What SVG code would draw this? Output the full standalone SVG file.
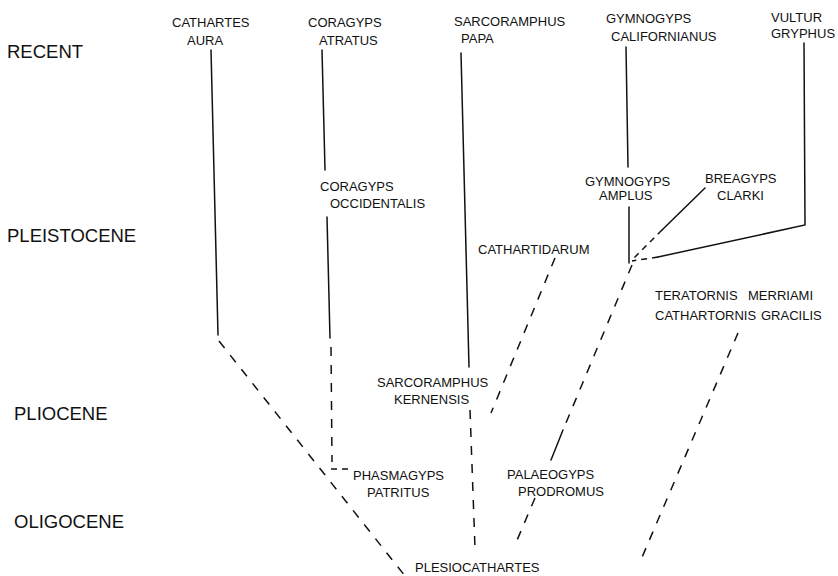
<svg xmlns="http://www.w3.org/2000/svg" width="838" height="576" viewBox="0 0 838 576">
<style>
.ep{font-family:"Liberation Sans",Arial,sans-serif;font-size:18.5px;fill:#111}
.tx{font-family:"Liberation Sans",Arial,sans-serif;font-size:13px;fill:#111}
.s{fill:none;stroke:#111;stroke-width:1.5;stroke-linecap:round}
.d{fill:none;stroke:#111;stroke-width:1.5;stroke-dasharray:9 9}
.ds{fill:none;stroke:#111;stroke-width:1.5;stroke-dasharray:6 5}
</style>
<rect width="838" height="576" fill="#fff"/>
<g id="epochs">
<text class="ep" x="7" y="58">RECENT</text>
<text class="ep" x="7" y="242">PLEISTOCENE</text>
<text class="ep" x="14" y="420">PLIOCENE</text>
<text class="ep" x="14" y="528">OLIGOCENE</text>
</g>
<g id="cathartes-aura"><text class="tx" x="172" y="27">CATHARTES</text><text class="tx" x="187" y="45">AURA</text></g>
<g id="coragyps-atratus"><text class="tx" x="308" y="27">CORAGYPS</text><text class="tx" x="319" y="45">ATRATUS</text></g>
<g id="sarcoramphus-papa"><text class="tx" x="454" y="26">SARCORAMPHUS</text><text class="tx" x="461" y="43">PAPA</text></g>
<g id="gymnogyps-californianus"><text class="tx" x="606" y="23">GYMNOGYPS</text><text class="tx" x="611" y="41">CALIFORNIANUS</text></g>
<g id="vultur-gryphus"><text class="tx" x="771" y="22">VULTUR</text><text class="tx" x="771" y="38">GRYPHUS</text></g>
<g id="coragyps-occidentalis"><text class="tx" x="320" y="191">CORAGYPS</text><text class="tx" x="330" y="208">OCCIDENTALIS</text></g>
<g id="gymnogyps-amplus"><text class="tx" x="585" y="186">GYMNOGYPS</text><text class="tx" x="599" y="200">AMPLUS</text></g>
<g id="breagyps-clarki"><text class="tx" x="705" y="183">BREAGYPS</text><text class="tx" x="717" y="200">CLARKI</text></g>
<g id="cathartidarum"><text class="tx" x="478" y="254">CATHARTIDARUM</text></g>
<g id="teratornis-merriami"><text class="tx" x="655" y="300">TERATORNIS</text><text class="tx" x="748" y="300">MERRIAMI</text></g>
<g id="cathartornis-gracilis"><text class="tx" x="655" y="320">CATHARTORNIS</text><text class="tx" x="761" y="320">GRACILIS</text></g>
<g id="sarcoramphus-kernensis"><text class="tx" x="377" y="387">SARCORAMPHUS</text><text class="tx" x="394" y="404">KERNENSIS</text></g>
<g id="phasmagyps-patritus"><text class="tx" x="353" y="480">PHASMAGYPS</text><text class="tx" x="367" y="497">PATRITUS</text></g>
<g id="palaeogyps-prodromus"><text class="tx" x="507" y="479">PALAEOGYPS</text><text class="tx" x="518" y="496">PRODROMUS</text></g>
<g id="plesiocathartes"><text class="tx" x="415" y="572">PLESIOCATHARTES</text></g>
<g id="connectors">
<path class="s" d="M211 50 L218 335"/>
<path class="d" d="M219 341 L405 576"/>
<path class="s" d="M322 50 L325 170"/>
<path class="s" d="M327 217 L330 338"/>
<path class="d" d="M331 347 L332 462"/>
<path class="ds" d="M331 469 L348 469"/>
<path class="s" d="M461 53 L469 367"/>
<path class="d" d="M470 410 L475 548"/>
<path class="d" d="M555 258 L491 413"/>
<path class="s" d="M626 47 L628 167"/>
<path class="s" d="M629 207 L629 263"/>
<path class="s" d="M705 188 L662 230"/>
<path class="ds" d="M662 230 L632 260"/>
<path class="s" d="M804 43 L805 225 L658 257"/>
<path class="ds" d="M658 257 L632 261"/>
<path class="d" d="M632 265 L563 430"/>
<path class="s" d="M563 430 L551 460"/>
<path class="d" d="M535 498 L515 545"/>
<path class="d" d="M738 333 L640 562"/>
</g>
</svg>
